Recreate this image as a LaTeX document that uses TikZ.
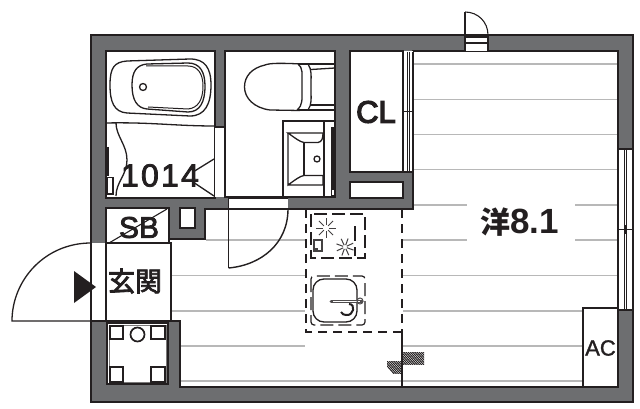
\documentclass[tikz,border=0pt]{standalone}
\usepackage{fontspec}
\setmainfont{Liberation Sans}
\newfontfamily\cjkfont{Noto Sans CJK JP}
\definecolor{wallgray}{HTML}{6D6E70}
\definecolor{inkc}{HTML}{231F20}
\definecolor{floorc}{HTML}{B8B8B8}
\tikzset{
  room/.style={fill=white,draw=inkc,line width=2pt,line join=miter},
  hair/.style={draw=inkc,line width=1.1pt},
  fixt/.style={draw=inkc,line width=1.3pt,fill=none},
  floorline/.style={draw=floorc,line width=1.9pt},
  kdash/.style={draw=inkc,line width=1.5pt,dash pattern=on 9pt off 6pt},
  dashsmall/.style={draw=inkc,line width=1.2pt,dash pattern=on 13pt off 5pt},
  txt/.style={inner sep=0pt,text=inkc,anchor=center},
}
\begin{document}
\begin{tikzpicture}[x=1pt,y=-1pt]
\useasboundingbox (0,0) rectangle (640,409);
% outer wall
\draw[fill=wallgray,draw=inkc,line width=1.3pt] (91,35) rectangle (633,402);
% main room
\draw[room] (413,51) -- (618,51) -- (618,387) -- (180,387) -- (180,321) -- (171,321) -- (171,243) -- (169,243) -- (169,239) -- (205,239) -- (205,209) -- (413,209) -- cycle;
% bath, toilet, closet
\draw[room] (106,51) rectangle (215,198);
\fill[white] (215,127) rectangle (225,197);
\draw[room] (225,51) rectangle (335,197);
\draw[hair] (215,127) -- (225,127);
\draw[room] (350,51) rectangle (403,172);
\draw[room,line width=1.6pt] (350,182) rectangle (403,198);
% SB, entrance, meter box
\draw[room] (106,208) rectangle (169,243);
\draw[room,line width=1.6pt] (180,208) rectangle (195,228);
\fill[white] (91.5,243) rectangle (106,321);
\fill[white] (106,243) rectangle (171,321);
\draw[hair] (91.5,243) -- (91.5,321);
\draw[room,line width=1.4pt] (106,243) -- (106,321);
\draw[room,line width=1.4pt] (171,243) -- (171,321);
\draw[room,line width=1.4pt] (106,243) -- (171,243);
\draw[room,line width=1.4pt] (91,321) -- (180,321);
\draw[room] (107,323) rectangle (168,384);
\draw[draw=inkc!60,line width=0.7pt] (109,325) rectangle (166,382);
% floor lines
\foreach \yy in {64,99.5,134.5,169.5} \draw[floorline] (414,\yy) -- (617,\yy);
\draw[floorline] (414,205) -- (467,205);
\draw[floorline] (575,205) -- (617,205);
\draw[floorline] (206,240) -- (305,240);
\draw[floorline] (403,240) -- (467,240);
\draw[floorline] (575,240) -- (617,240);
\draw[floorline] (172,275.5) -- (305,275.5);
\draw[floorline] (403,275.5) -- (617,275.5);
\draw[floorline] (172,311) -- (305,311);
\draw[floorline] (403,311) -- (583,311);
\draw[floorline] (181,346) -- (305,346);
\draw[floorline] (403,346) -- (583,346);
\draw[floorline] (181,381) -- (583,381);
% bath fixtures
\draw[fixt] (110,85) .. controls (110,68) and (114,62) .. (127,61) -- (190,59) .. controls (205,59) and (211,68) .. (211,85) .. controls (211,104) and (205,116) .. (190,116) -- (127,113) .. controls (114,112) and (110,102) .. (110,85) -- cycle;
\draw[fixt] (132,85) .. controls (132,71) and (137,65) .. (147,64) -- (188,63) .. controls (200,63) and (205,72) .. (205,86) .. controls (205,102) and (200,112) .. (188,112) -- (147,109) .. controls (137,108) and (132,100) .. (132,85) -- cycle;
\draw[fixt,line width=1pt] (146,66) -- (188,66) .. controls (198,66) and (203,74) .. (203,86) .. controls (203,100) and (198,108) .. (188,109) -- (148,107);
\draw[fixt] (143,87) circle (3.5);
\draw[fixt] (106,123) .. controls (150,122) and (175,126) .. (215,126);
\draw[fixt] (116,123) .. controls (116,136) and (127,145) .. (127,160) .. controls (127,175) and (116,182) .. (116,196);
\draw[inkc,line width=2.5pt] (108,147) -- (108,176);
\draw[fixt,fill=white] (107,177.5) rectangle (113,194);
\draw[fixt] (193,172) -- (214,159);
\draw[fixt] (193,182) -- (214,196);
% toilet
\draw[fixt] (302,64) .. controls (280,63) and (270,63) .. (265,65) .. controls (252,68) and (244.5,76) .. (244.5,87) .. controls (244.5,98) and (254,108) .. (270,110) -- (300,110.5);
\draw[fixt] (298,64) .. controls (303,68) and (302,72) .. (302,87) .. controls (302,100) and (303,105) .. (297,110);
\draw[fixt] (308,64) .. controls (312,70) and (311,75) .. (311,87) .. controls (311,100) and (312,104) .. (308,110);
\draw[fixt] (298,64) -- (335,64);
\draw[fixt] (311,69.5) -- (335,68);
\draw[fixt] (311,105) -- (335,105);
\draw[fixt] (297,110) -- (335,110);
% washbasin
\draw[room,line width=1.6pt] (283,121) rectangle (335,197);
\draw[fixt] (324,122) -- (324,197);
\fill[inkc] (331,127) rectangle (335,196);
\fill[white] (332,123) rectangle (334,127);
\fill[white] (332,190) rectangle (334,195);
\draw[fixt] (288,133) -- (288,185) .. controls (295,180) and (300,176) .. (304,175.5) -- (323,175.5) -- (323,185) -- (288,185);
\draw[fixt] (288,133) .. controls (295,138) and (300,142) .. (304,142.5) -- (318,142.5) .. controls (322,142) and (323,138) .. (323,133) -- cycle;
\draw[fixt] (304,142.5) -- (304,175.5);
\draw[fixt] (317,159) circle (3);
% closet door
\fill[white] (403.5,51.5) rectangle (412.5,172);
\draw[hair] (403,172) -- (413,172);
\draw[hair] (413,52) -- (413,172);
\draw[hair,line width=0.9pt] (407,52) -- (407,172);
\draw[hair,line width=0.9pt] (409,52) -- (409,172);
\draw[hair,line width=0.9pt] (404,111) -- (412,111);
\draw[hair,line width=0.9pt] (407.5,108) -- (407.5,114);
% bathroom door
\fill[white] (229,198.2) rectangle (288,209);
\draw[hair] (229,198) -- (288,198);
\draw[hair] (229,208.5) -- (288,208.5);
\draw[hair,line width=1.4pt] (228.5,198) -- (228.5,268);
\draw[hair,line width=1.4pt] (228.5,268) .. controls (262,265) and (288,243) .. (288,209);
% dashed kitchen
\draw[kdash] (306,209) -- (306,332) -- (402,332);
\draw[kdash] (402,209) -- (402,332);
\draw[inkc,line width=1.5pt] (402,332) -- (402,388);
% hatching
\begin{scope}
\clip (387,361) rectangle (402,373);
\foreach \i in {0,2.2,...,30} \draw[inkc,line width=1pt] (380+\i,358) -- (396+\i,376);
\end{scope}
\begin{scope}
\clip (402,352) rectangle (424,364);
\foreach \i in {0,2.2,...,40} \draw[inkc,line width=1pt] (390+\i,349) -- (406+\i,367);
\end{scope}
% cooktop
\draw[dashsmall] (311,214) rectangle (365,258);
\foreach \a in {0,45,...,315} {
  \draw[inkc!85,line width=1pt] (326,228) ++(\a:3) -- ++(\a:7);
  \draw[inkc!85,line width=1pt] (345,247) ++(\a+20:2) -- ++(\a+20:7);
}
\draw[inkc!85,line width=1.2pt] (314,240) rectangle (322,251);
\fill[inkc!85] (315,248) rectangle (318,252);
\draw[inkc,line width=1.3pt] (355,247) -- (355,256);
\draw[inkc,line width=1.3pt] (355,226) -- (355,241);
% sink
\draw[dashsmall,rounded corners=3pt] (311,276) rectangle (365,325);
\draw[draw=inkc,line width=1.3pt,rounded corners=11pt] (313,279) rectangle (357,322);
\draw[draw=inkc!80,line width=3pt,line cap=round] (331,301) -- (362,301);
\draw[draw=white,line width=0.8pt] (333,301) -- (360,301);
\draw[draw=inkc,line width=2pt] (349,304) .. controls (356,304) and (354,316) .. (346,315) .. controls (344,315) and (342,314) .. (341,312);
\draw[draw=inkc!80,line width=1pt] (360,301) circle (3);
% entrance door and arrow
\draw[hair,line width=1.3pt] (91,243) .. controls (45,243) and (12,280) .. (12,321) -- (91,321);
\draw[fill=inkc,draw=none] (74,271) -- (96,287) -- (74,303) -- cycle;
% meter box squares
\draw[room,line width=1.5pt] (110,326) rectangle (123,339);
\draw[room,line width=1.5pt] (151,326) rectangle (165,339);
\draw[room,line width=1.5pt] (110,367) rectangle (123,382);
\draw[room,line width=1.5pt] (151,367) rectangle (165,382);
\draw[room,line width=1.7pt] (137.5,334.5) circle (7);
% SB diagonal
\draw[hair] (109,243) -- (167,209);
% balcony door
\fill[white] (465,36) rectangle (488,51);
\draw[hair] (465,12) -- (465,51);
\draw[hair] (488,35) -- (488,51);
\draw[hair] (465,37) -- (488,37);
\draw[hair] (465,43) -- (488,43);
\draw[hair] (465,12) .. controls (478,12) and (488,22) .. (488,35);
% right window
\fill[white] (618.5,149) rectangle (632.5,310);
\draw[hair] (618.5,149) -- (632.5,149);
\draw[hair] (618.5,310) -- (632.5,310);
\draw[hair] (632.5,149) -- (632.5,310);
\draw[hair] (618.5,149) -- (618.5,310);
\draw[hair,line width=0.9pt] (624.5,149) -- (624.5,310);
\draw[hair,line width=0.9pt] (626,149) -- (626,310);
\draw[hair,line width=0.9pt] (618,229.5) -- (633,229.5);
\draw[hair,line width=0.9pt] (625.5,225) -- (625.5,234);
% AC
\draw[room,line width=1.5pt] (583,308) rectangle (618,386.5);
% labels
\node[txt] (tbath) at (160,175.5) {\fontsize{32}{32}\selectfont\addfontfeature{LetterSpace=7,FakeBold=2.5}1014};
\node[txt] (tsb) at (139,227.5) {\fontsize{30}{30}\selectfont\addfontfeature{FakeBold=2.5} SB};
\node[txt] (tent) at (135,281) {\cjkfont\fontsize{27}{27}\selectfont\addfontfeature{FakeBold=3} 玄関};
\node[txt] (tcl) at (376,112) {\fontsize{31}{31}\selectfont\addfontfeature{FakeBold=4} CL};
\node[txt] (tac) at (600.5,348) {\fontsize{22}{22}\selectfont\addfontfeature{FakeBold=1.5} AC};
\node[txt] (troom) at (519.5,222) {\cjkfont\bfseries\fontsize{30}{30}\selectfont 洋\fontspec{Liberation Sans}\bfseries\fontsize{35}{35}\selectfont 8.1};
\end{tikzpicture}
\end{document}
